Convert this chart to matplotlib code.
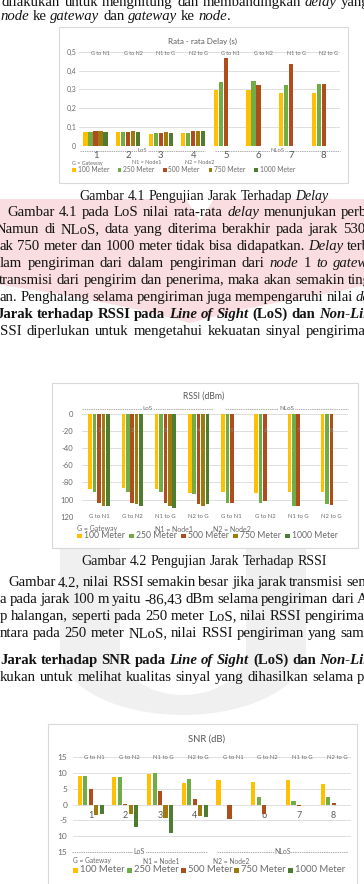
import numpy as np
import matplotlib
matplotlib.use("Agg")
import matplotlib.pyplot as plt
from matplotlib.patches import Rectangle, Polygon
from matplotlib.transforms import blended_transform_factory

W, H, DPI = 364, 884, 100

# ---------------- data ----------------
group_ids = ["1", "2", "3", "4", "5", "6", "7", "8"]
link_labels = ["G to N1", "G to N2", "N1 to G", "N2 to G",
               "G to N1", "G to N2", "N1 to G", "N2 to G"]
series_names = ["100 Meter", "250 Meter", "500 Meter", "750 Meter", "1000 Meter"]
key_labels = ["G = Gateway", "N1 = Node1", "N2 = Node2"]
zone_labels = ["LoS", "NLoS"]
NA = np.nan

delay_100 = [0.075, 0.073, 0.061, 0.070, 0.296, 0.296, 0.279, 0.282]
delay_250 = [0.075, 0.073, 0.068, 0.070, 0.340, 0.344, 0.323, 0.327]
delay_500 = [0.077, 0.076, 0.068, 0.077, 0.467, 0.326, 0.434, 0.330]
delay_750 = [0.077, 0.078, 0.072, 0.077, NA, NA, NA, NA]
delay_1000 = [0.075, 0.076, 0.070, 0.077, NA, NA, NA, NA]
delay_ticks = [0, 0.1, 0.2, 0.3, 0.4, 0.5]
delay_ticklabels = ["0", "0,1", "0,2", "0,3", "0,4", "0,5"]

rssi_100 = [-88.0, -86.4, -88.0, -92.7, -91.5, -92.7, -91.5, -90.7]
rssi_250 = [-90.7, -91.5, -90.7, -93.8, -104.4, -104.4, -107.0, -105.0]
rssi_500 = [-103.6, -104.4, -103.6, -105.5, -104.4, -101.6, -107.0, -106.0]
rssi_750 = [-107.5, -105.5, -107.5, -107.5, NA, NA, NA, NA]
rssi_1000 = [-107.5, -107.5, -109.4, -105.0, NA, NA, NA, NA]
rssi_ticks = [0, -20, -40, -60, -80, -100, -120]
rssi_ticklabels = ["0", "-20", "-40", "-60", "-80", "100", "120"]

snr_100 = [9.0, 8.7, 9.6, 6.8, 7.7, 7.2, 7.7, 6.4]
snr_250 = [9.0, 8.7, 10.0, 8.0, NA, 2.3, 1.1, 2.4]
snr_500 = [4.8, 0.3, 4.3, 1.6, -4.7, -3.1, -0.6, 0.6]
snr_750 = [-3.3, -3.0, -4.2, -3.8, NA, NA, NA, NA]
snr_1000 = [-3.1, -7.0, -9.1, -3.9, NA, NA, NA, NA]
snr_ticks = [15, 10, 5, 0, -5, -10, -15]
snr_ticklabels = ["15", "10", "5", "0", "-5", "10", "15"]

colors = ["#FFC000", "#70AD47", "#AF4D1C", "#9F7A0C", "#4E7C30"]

SERIF = ["Liberation Serif", "DejaVu Serif"]
SANS = ["Lato", "DejaVu Sans"]
TXT = "#141414"
GRAYTXT = "#6a6a6a"
BODY = 10.6
CAP = 10.0

fig = plt.figure(figsize=(W / DPI, H / DPI), dpi=DPI)
bg = fig.add_axes([0, 0, 1, 1])
bg.set_xlim(0, W)
bg.set_ylim(H, 0)
bg.set_autoscale_on(False)
bg.axis("off")
renderer = fig.canvas.get_renderer()

# ---------------- watermark ----------------
pink = "#F9DDE0"
heart = [(-5, 199), (186, 199), (200, 221), (214, 199), (370, 199), (370, 284),
         (340, 291), (285, 301), (235, 311), (190, 323), (145, 311), (95, 301),
         (40, 291), (-5, 284)]
bg.add_patch(Polygon(heart, closed=True, fc=pink, ec="none", zorder=0.5))

grey = "#F0F0F0"
th = np.linspace(np.pi, 2 * np.pi, 40)
cx0 = 183
outer = [(60, 548)] + [(cx0 + 123 * np.cos(t), 650 - 65 * np.sin(t)) for t in th] + [(306, 548)]
inner = [(246, 548)] + [(cx0 + 63 * np.cos(t), 650 - 45 * np.sin(t)) for t in th[::-1]] + [(120, 548)]
bg.add_patch(Polygon(outer + inner, closed=True, fc=grey, ec="none", zorder=0.5))

# ---------------- body text ----------------
STY = {"n": ("normal", "normal"), "i": ("italic", "normal"),
       "b": ("normal", "bold"), "bi": ("italic", "bold")}


def tw(txt, size, st):
    style, weight = STY[st]
    kw = dict(fontsize=size, family=SERIF, style=style, weight=weight)
    t1 = bg.text(0, 0, txt + "|", **kw)
    t2 = bg.text(0, 0, "|", **kw)
    w = t1.get_window_extent(renderer).width - t2.get_window_extent(renderer).width
    t1.remove()
    t2.remove()
    return w


def body_line(x, y, segs, size=BODY, last_x=None, center=None):
    items = []
    for txt, st in segs:
        parts = txt.split(" ")
        for j, p in enumerate(parts):
            if j > 0:
                items.append(("sp", " ", st))
            if p:
                items.append(("w", p, st))
    widths = [tw(t, size, st) for _, t, st in items]
    if center is not None:
        x = center - sum(widths) / 2
    extra = 0.0
    if last_x is not None:
        li = max(i for i, it in enumerate(items) if it[0] == "w")
        nsp = sum(1 for it in items[:li] if it[0] == "sp")
        extra = max((last_x - x - sum(widths[:li])) / max(nsp, 1), -1.0)
    cx = x
    for (kind, t, st), w in zip(items, widths):
        if kind == "w":
            style, weight = STY[st]
            bg.text(cx, y + 4, t, fontsize=size, family=SERIF, style=style,
                    weight=weight, color=TXT, va="baseline", ha="left", zorder=3)
            cx += w
        else:
            cx += w + extra


body_line(2, 2, [("dilakukan untuk menghitung dan membandingkan ", "n"), ("delay", "i"), (" yang", "n")], last_x=341)
body_line(0, 16, [("node", "i"), (" ke ", "n"), ("gateway", "i"), (" dan ", "n"), ("gateway", "i"),
                  (" ke ", "n"), ("node", "i"), (".", "n")])
body_line(0, 196, [("Gambar 4.1 Pengujian Jarak Terhadap ", "n"), ("Delay", "i")], size=CAP, center=204)
body_line(7, 212, [("Gambar 4.1 pada LoS nilai rata-rata ", "n"), ("delay", "i"), (" menunjukan perbedaan", "n")], last_x=341)
body_line(-4, 229, [("Namun di NLoS, data yang diterima berakhir pada jarak 530", "n")], last_x=343)
body_line(0, 246, [("ak 750 meter dan 1000 meter tidak bisa didapatkan. ", "n"), ("Delay", "i"), (" terbesar", "n")], last_x=347)
body_line(0, 263, [("lam pengiriman dari dalam pengiriman dari ", "n"), ("node", "i"), (" 1 ", "n"), ("to gateway", "i")], last_x=333)
body_line(-1, 280, [("transmisi dari pengirim dan penerima, maka akan semakin tinggi", "n")], last_x=348)
body_line(0, 297, [("an. Penghalang selama pengiriman juga mempengaruhi nilai ", "n"), ("delay", "i")], last_x=356)
body_line(-4, 314, [("Jarak terhadap RSSI pada ", "b"), ("Line of Sight", "bi"), (" (LoS) dan ", "b"), ("Non-Line of Sight", "bi")])
body_line(0, 331, [("SSI diperlukan untuk mengetahui kekuatan sinyal pengiriman", "n")], last_x=306)

body_line(0, 561, [("Gambar 4.2 Pengujian Jarak Terhadap RSSI", "n")], size=CAP, center=204)
body_line(8, 582, [("Gambar 4.2, nilai RSSI semakin besar jika jarak transmisi semakin", "n")], last_x=346)
body_line(0, 599, [("a pada jarak 100 m yaitu -86,43 dBm selama pengiriman dari A", "n")], last_x=357)
body_line(0, 616, [("p halangan, seperti pada 250 meter LoS, nilai RSSI pengiriman", "n")], last_x=305)
body_line(0, 633, [("ntara pada 250 meter NLoS, nilai RSSI pengiriman yang sama", "n")], last_x=340)
body_line(0, 660, [("Jarak terhadap SNR pada ", "b"), ("Line of Sight", "bi"), (" (LoS) dan ", "b"), ("Non-Line of Sight", "bi")])
body_line(0, 677, [("kukan untuk melihat kualitas sinyal yang dihasilkan selama pengiriman", "n")], last_x=357)

# ---------------- chart helpers ----------------
for (x0, y0, x1, y1) in [(59, 27, 348, 183), (52, 383, 358, 548), (48, 724, 357, 900)]:
    bg.add_patch(Rectangle((x0, y0), x1 - x0, y1 - y0, fc="white", ec="#D9D9D9", lw=0.8, zorder=1))


def make_ax(xl, xr, yt, yb, ylim, ticks, ticklabels, tsize, pad):
    ax = fig.add_axes([xl / W, 1 - yb / H, (xr - xl) / W, (yb - yt) / H])
    ax.set_facecolor("none")
    ax.set_xlim(-0.5, 7.5)
    ax.set_ylim(*ylim)
    ax.set_xticks([])
    ax.set_yticks(ticks)
    ax.set_yticklabels(ticklabels, fontsize=tsize, color=GRAYTXT, family=SANS)
    ax.tick_params(axis="y", length=0, pad=pad)
    for s in ax.spines.values():
        s.set_visible(False)
    ax.grid(axis="y", color="#D9D9D9", lw=0.6, zorder=0.5)
    ax.set_axisbelow(True)
    return ax


def draw_bars(ax, vals_list, step, width):
    x = np.arange(len(group_ids))
    for k, (vals, c) in enumerate(zip(vals_list, colors)):
        ax.bar(x + (k - 2) * step, vals, width=width, color=c, lw=0, zorder=3)


def legend(x0, step, y, size, sq):
    for k, (name, c) in enumerate(zip(series_names, colors)):
        x = x0 + k * step
        bg.add_patch(Rectangle((x, y - sq / 2), sq, sq, fc=c, ec="none", zorder=5))
        bg.text(x + sq + 2, y, name, fontsize=size, family=SANS, color=GRAYTXT,
                va="center", ha="left", zorder=5)


def keys(xs, y, size):
    for x, lab in zip(xs, key_labels):
        bg.text(x, y, lab, fontsize=size, family=SANS, color=GRAYTXT, va="center", ha="left", zorder=5)


def zones(y, spans, size):
    for (a, b), lab in zip(spans, zone_labels):
        bg.plot([a, b], [y, y], color="#8c8c8c", lw=0.5, dashes=(2, 1.2), zorder=5)
        bg.text((a + b) / 2, y, lab, fontsize=size, family=SANS, color=GRAYTXT, va="center",
                ha="center", zorder=6, bbox=dict(fc="white", ec="none", pad=0.4))


def title(x, y, txt, size):
    bg.text(x, y, txt, fontsize=size, family=SANS, color="#595959", va="center", ha="center", zorder=5)


# ---------------- chart 1: delay ----------------
ax1 = make_ax(79.2, 340, 51.7, 146, (0, 0.5), delay_ticks, delay_ticklabels, 5.0, 2.2)
draw_bars(ax1, [delay_100, delay_250, delay_500, delay_750, delay_1000], 0.153, 0.125)
tr1 = blended_transform_factory(ax1.transData, bg.transData)
for i, (g, l) in enumerate(zip(group_ids, link_labels)):
    ax1.text(i, 155.5, g, transform=tr1, fontsize=6.8, family=SANS, color="#595959",
             ha="center", va="center", clip_on=False, zorder=4)
    ax1.text(i + 0.15, 53.5, l, transform=tr1, fontsize=3.9, family=SANS, color=GRAYTXT,
             ha="center", va="center", clip_on=False, zorder=4)
title(203, 41, "Rata - rata Delay (s)", 5.8)
zones(151, [(80, 205), (215, 340)], 4.2)
keys([72, 132, 185], 163, 3.9)
legend(72, 45.5, 170, 4.8, 3.5)

# ---------------- chart 2: RSSI ----------------
ax2 = make_ax(82.4, 348, 414, 516.7, (-120, 0), rssi_ticks, rssi_ticklabels, 5.5, 6.5)
draw_bars(ax2, [rssi_100, rssi_250, rssi_500, rssi_750, rssi_1000], 0.133, 0.108)
tr2 = blended_transform_factory(ax2.transData, bg.transData)
for i, (g, l) in enumerate(zip(group_ids, link_labels)):
    ax2.text(i, 430, g, transform=tr2, fontsize=4.5, family=SANS, color="#8a8a8a",
             ha="center", va="center", clip_on=False, zorder=4)
    ax2.text(i, 516, l, transform=tr2, fontsize=4.2, family=SANS, color=GRAYTXT,
             ha="center", va="center", clip_on=False, zorder=4)
title(204, 396.5, "RSSI (dBm)", 6.2)
zones(409, [(82, 213), (225, 348)], 4.5)
keys([77, 155, 213], 529, 5.0)
legend(77, 52, 536, 6.2, 4.5)

# ---------------- chart 3: SNR ----------------
ax3 = make_ax(73.3, 351, 757.3, 851.7, (-15, 15), snr_ticks, snr_ticklabels, 6.0, 4.3)
draw_bars(ax3, [snr_100, snr_250, snr_500, snr_750, snr_1000], 0.158, 0.12)
tr3 = blended_transform_factory(ax3.transData, bg.transData)
for i, (g, l) in enumerate(zip(group_ids, link_labels)):
    ax3.text(i, 815.5, g, transform=tr3, fontsize=6.5, family=SANS, color="#595959",
             ha="center", va="center", clip_on=False, zorder=1)
    ax3.text(i + 0.1, 757.5, l, transform=tr3, fontsize=4.2, family=SANS, color=GRAYTXT,
             ha="center", va="center", clip_on=False, zorder=4)
title(207, 739, "SNR (dB)", 6.8)
zones(851.7, [(72, 207), (217, 348)], 5.0)
keys([73, 143, 213], 861, 4.8)
legend(73, 53.75, 870, 6.8, 5)

fig.savefig("out.png", dpi=DPI)
